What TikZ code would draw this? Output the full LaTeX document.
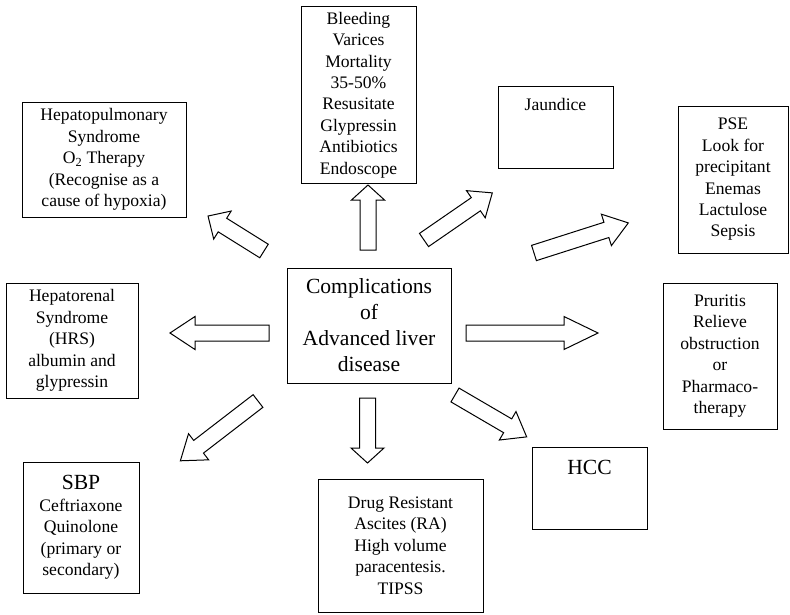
\documentclass[tikz,border=0pt]{standalone}
\usepackage{fontspec}
\setmainfont{Liberation Serif}
\usetikzlibrary{positioning}
\newcommand{\normaltext}{\fontsize{17.6}{21.4}\selectfont}
\newcommand{\bigtext}{\fontsize{21.6}{26}\selectfont}
\tikzset{
  box/.style={draw, line width=1pt, inner sep=0pt, align=center, font=\normaltext},
  boxtext/.style={inner sep=0pt, align=center},
  arrowline/.style={draw, line width=1pt, line join=miter},
  pics/blockarrow/.style 2 args={code={
    \draw[arrowline] (0,-8) -- ({#1-#2},-8) -- ({#1-#2},-16.5) -- (#1,0)
      -- ({#1-#2},16.5) -- ({#1-#2},8) -- (0,8) -- cycle;
  }}
}
\begin{document}
\begin{tikzpicture}[x=1pt,y=-1pt]
    \useasboundingbox (0,0) rectangle (790,614);

    %Mitte
    \node[box, font=\bigtext, minimum width=164, minimum height=115] (compl) at (369,325.5)
      {Complications\\of\\Advanced liver\\disease};

    %Kaesten oben
    \node[box, minimum width=115, minimum height=177] (bleed) at (358.5,95)
      {Bleeding\\Varices\\Mortality\\35-50\%\\Resusitate\\Glypressin\\Antibiotics\\Endoscope};
    \node[box, minimum width=164, minimum height=115] (hpulm) at (104,159.5)
      {Hepatopulmonary\\Syndrome\\O\textsubscript{2} Therapy\\(Recognise as a\\cause of hypoxia)};
    \node[box, minimum width=115, minimum height=82] (jaund) at (555.5,127) {};
    \node[boxtext, font=\normaltext, below=13pt of jaund.north] (jaundtxt) {Jaundice};
    \node[box, minimum width=110, minimum height=147] (pse) at (733,179.5)
      {PSE\\Look for\\precipitant\\Enemas\\Lactulose\\Sepsis};

    %Kaesten Mitte
    \node[box, minimum width=132, minimum height=115] (hrs) at (72,340.5)
      {Hepatorenal\\Syndrome\\(HRS)\\albumin and\\glypressin};
    \node[box, minimum width=114, minimum height=146] (prur) at (720,356)
      {Pruritis\\Relieve\\obstruction\\or\\Pharmaco-\\therapy};

    %Kaesten unten
    \node[box, minimum width=116, minimum height=131] (sbp) at (81,527.5)
      {{\bigtext SBP}\\Ceftriaxone\\Quinolone\\(primary or\\secondary)};
    \node[box, minimum width=115, minimum height=82] (hcc) at (589.5,488)
      {};
    \node[boxtext, font=\bigtext, below=13pt of hcc.north] (hcctxt) {HCC};
    \node[box, minimum width=165, minimum height=133] (asc) at (400.5,545.5)
      {Drug Resistant\\Ascites (RA)\\High volume\\paracentesis.\\TIPSS};

    %Blockpfeile
    \pic[rotate=90] at (368,250) {blockarrow={65}{15}};     %Bleeding
    \pic[rotate=-90] at (367.5,398) {blockarrow={65}{15}};  %Ascites
    \pic[rotate=180] at (269,333) {blockarrow={99}{25}};    %HRS
    \pic at (466,333) {blockarrow={132}{34}};               %Pruritis
    \pic[rotate=148] at (264,251) {blockarrow={66}{17}};    %Hepatopulmonary
    \pic[rotate=34.6] at (424,240) {blockarrow={83}{20}};   %Jaundice
    \pic[rotate=17.7] at (534,253) {blockarrow={99}{23}};   %PSE
    \pic[rotate=-142.4] at (258,401) {blockarrow={98}{23}}; %SBP
    \pic[rotate=-30.3] at (455,395) {blockarrow={83}{22}};  %HCC
\end{tikzpicture}
\end{document}
